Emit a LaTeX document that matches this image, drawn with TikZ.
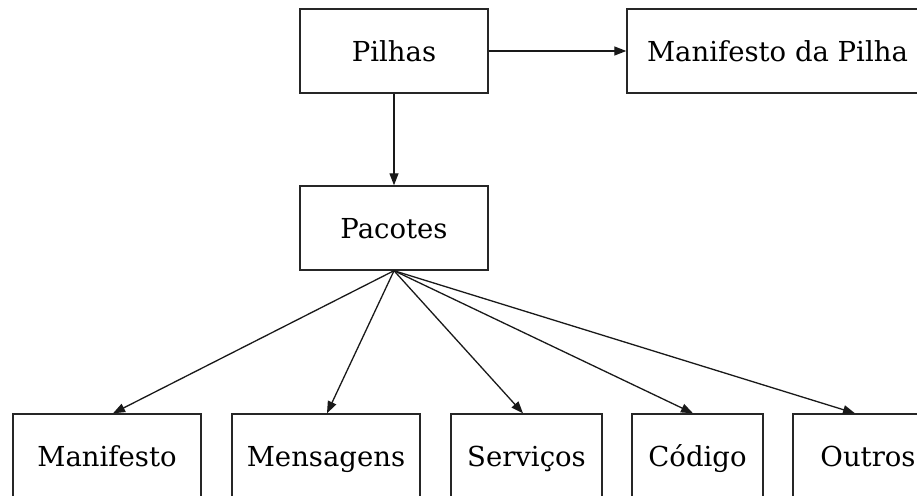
\documentclass[tikz,border=0pt]{standalone}
\usepackage{fontspec}
\setmainfont{DejaVu Serif}
\usetikzlibrary{arrows.meta}
\begin{document}
\begin{tikzpicture}[x=1pt,y=-1pt,
  box/.style={draw=black!85, line width=1.4pt, rectangle, inner sep=0pt,
    minimum height=84pt, text height=27pt, text depth=7pt,
    font=\fontsize{27.5}{32}\selectfont},
  link/.style={draw=black!90, line width=1.3pt,
    -{Triangle[length=12pt,width=9pt]}}]
\useasboundingbox (0,0) rectangle (917,495);
\clip (0,0) rectangle (917,495);
% top row
\node[box, minimum width=188pt] (pil) at (394,51) {Pilhas};
\node[box, minimum width=301pt] (man) at (777.5,51) {Manifesto da Pilha};
% middle
\node[box, minimum width=188pt] (pac) at (394,228) {Pacotes};
% bottom row
\node[box, minimum width=188pt] (mf) at (107,456) {Manifesto};
\node[box, minimum width=188pt] (ms) at (326,456) {Mensagens};
\node[box, minimum width=151pt] (sv) at (526.5,456) {Serviços};
\node[box, minimum width=131pt] (cd) at (697.5,456) {Código};
\node[box, minimum width=150pt] (ou) at (868,456) {Outros};
% connectors
\draw[link] (pil.east) -- (man.west);
\draw[link] (pil.south) -- (pac.north);
\draw[link] (pac.south) -- ([xshift=6pt]mf.north);
\draw[link] (pac.south) -- ([xshift=1pt]ms.north);
\draw[link] (pac.south) -- ([xshift=-3.5pt]sv.north);
\draw[link] (pac.south) -- ([xshift=-4.5pt]cd.north);
\draw[link] (pac.south) -- ([xshift=-13pt]ou.north);
\end{tikzpicture}
\end{document}
